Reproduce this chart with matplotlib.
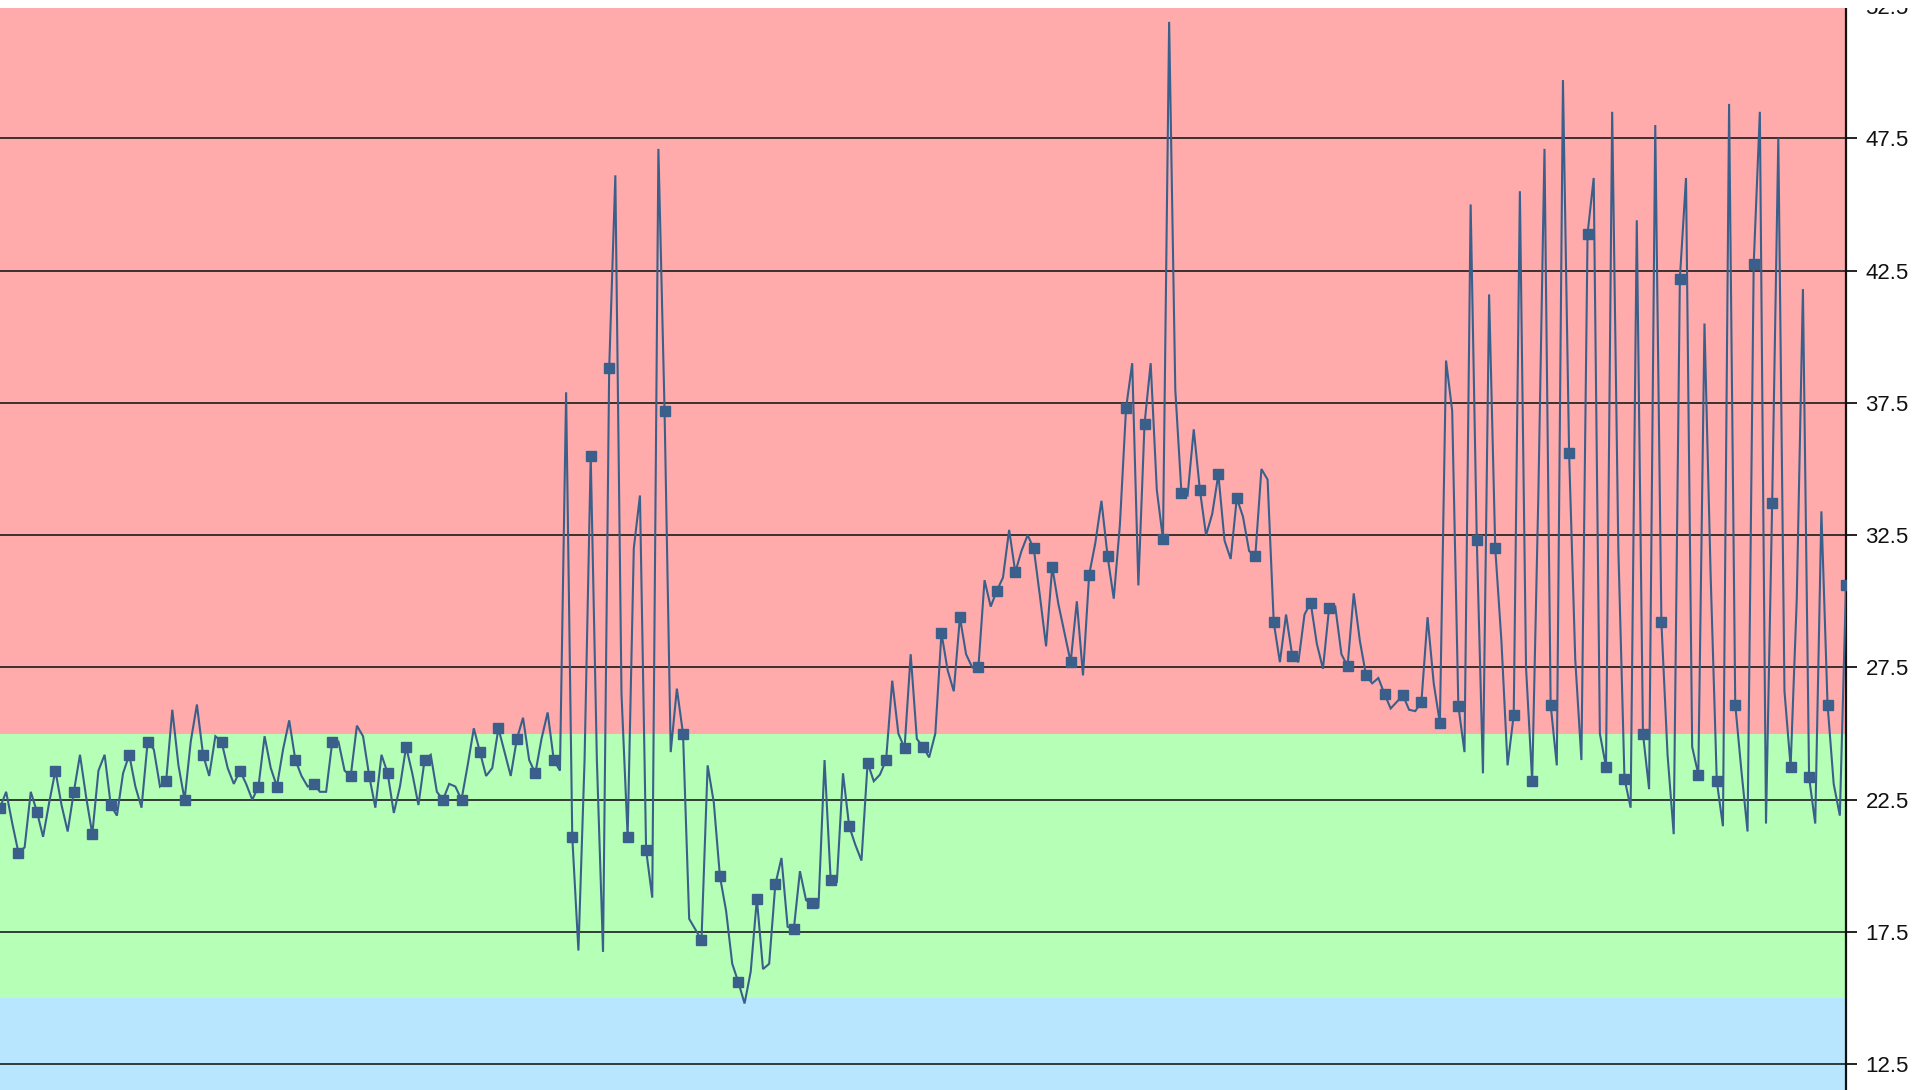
import matplotlib
matplotlib.use("Agg")
import matplotlib.pyplot as plt
from matplotlib.patches import Rectangle
import numpy as np

# ---- data (one sample every 1/3 marker step) ----
seg_early = [
    22.2, 22.8, 21.6,   20.5, 20.7, 22.8,   22.05, 21.1, 22.4,  23.6, 22.3, 21.3,
    22.8, 24.2, 22.6,   21.2, 23.6, 24.2,   22.3, 21.9, 23.5,   24.2, 23.0, 22.2,
    24.7, 24.4, 23.0,   23.2, 25.9, 23.8,   22.5, 24.7, 26.1,   24.2, 23.4, 24.9,
    24.7, 23.7, 23.1,   23.6, 23.1, 22.5,   23.0, 24.9, 23.7,   23.0, 24.4, 25.5,
    24.0, 23.4, 23.0,   23.1, 22.8, 22.8,   24.7, 24.7, 23.6,   23.4, 25.3, 24.9,
    23.4, 22.2, 24.2,   23.5, 22.0, 23.0,   24.5, 23.5, 22.3,   24.0, 24.2, 22.8,
    22.5, 23.1, 23.0,   22.5, 23.8, 25.2,   24.3, 23.4, 23.7,   25.2, 24.3, 23.4,
    24.8, 25.6, 24.0,   23.5, 24.8, 25.8,   24.0, 23.6, 37.9,
]
seg_middle = [
    21.1, 16.8, 24.0,   35.5, 24.0, 16.75,  38.8, 46.1, 26.5,   21.1, 32.0, 34.0,
    20.6, 18.8, 47.1,   37.2, 24.3, 26.7,   25.0, 18.0, 17.6,   17.2, 23.8, 22.4,
    19.6, 18.3, 16.3,   15.6, 14.8, 16.0,   18.75, 16.1, 16.3,  19.3, 20.3, 17.7,
    17.6, 19.8, 18.7,   18.6, 18.4, 24.0,   19.45, 19.4, 23.5,  21.5, 20.8, 20.2,
    23.9, 23.2, 23.45,  24.0, 27.0, 25.0,   24.45, 28.0, 24.8,  24.5, 24.1, 25.0,
    28.8, 27.4, 26.6,   29.4, 28.0, 27.5,   27.5, 30.8, 29.8,   30.4, 30.9, 32.7,
    31.1, 31.9, 32.5,   32.0, 30.2, 28.3,   31.3, 29.9, 28.8,   27.7, 30.0, 27.2,
    31.0, 32.2, 33.8,   31.7, 30.1, 32.9,   37.3, 39.0, 30.6,   36.7, 39.0, 34.2,
    32.35, 51.9, 38.0,  34.1, 34.0, 36.5,   34.2, 32.5, 33.3,   34.8, 32.3, 31.6,
    33.9, 33.2, 31.9,   31.7, 35.0, 34.6,   29.2, 27.7, 29.5,
]
seg_late = [
    27.95, 27.7, 29.5,  29.95, 28.4, 27.45,  29.75, 29.8, 28.0,  27.55, 30.3, 28.5,
    27.2, 26.9, 27.1,   26.5, 25.95, 26.2,   26.45, 25.9, 25.85, 26.2, 29.4, 26.9,
    25.4, 39.1, 37.2,   26.05, 24.3, 45.0,   32.3, 23.5, 41.6,   32.0, 28.5, 23.8,
    25.7, 45.5, 27.5,   23.2, 34.0, 47.1,    26.1, 23.8, 49.7,   35.6, 27.8, 24.0,
    43.9, 46.0, 25.0,   23.75, 48.5, 32.0,   23.3, 22.2, 44.4,   25.0, 22.9, 48.0,
    29.2, 24.2, 21.2,   42.2, 46.0, 24.5,    23.45, 40.5, 31.0,  23.2, 21.5, 48.8,
    26.1, 23.6, 21.3,   42.75, 48.5, 21.6,   33.7, 47.5, 26.6,   23.75, 30.1, 41.8,
    23.35, 21.6, 33.4,  26.1, 23.1, 21.9,    30.6,
]

tick_values = [12.5, 17.5, 22.5, 27.5, 32.5, 37.5, 42.5, 47.5, 52.5]
tick_labels = ["12.5", "17.5", "22.5", "27.5", "32.5", "37.5", "42.5", "47.5", "52.5"]
band_edges = [15.0, 25.0]          # blue | green | red zones
band_colors = ["#B9E6FF", "#B6FFB6", "#FFABAB"]

# ---- figure ----
W, H = 1915, 1090
fig = plt.figure(figsize=(W / 100, H / 100), dpi=100)
fig.patch.set_facecolor("white")
ax = fig.add_axes([0, 0, 1846 / W, 1 - 6 / H])

y = np.array(seg_early + seg_middle + seg_late)
x = np.arange(len(y))

ymin, ymax = 11.53, 52.5
ax.set_ylim(ymin, ymax)
ax.set_xlim(0, len(y) - 1)

edges = [ymin] + band_edges + [ymax]
for lo, hi, c in zip(edges[:-1], edges[1:], band_colors):
    ax.axhspan(lo, hi, color=c, lw=0, zorder=0)

for t in tick_values:
    ax.axhline(t, color="#1c1c1c", lw=1.2, zorder=1)

ax.plot(x, y, color="#3A5F8B", lw=1.5, marker="s", ms=7.5,
        markevery=3, zorder=3, solid_joinstyle="miter")

ax.yaxis.tick_right()
ax.set_yticks(tick_values)
ax.set_yticklabels(tick_labels, family=["Liberation Sans", "DejaVu Sans"])
ax.tick_params(axis="y", direction="out", length=8, width=1.3, pad=6,
               labelsize=16, colors="#111111")
ax.set_xticks([])
for s in ("left", "top", "bottom"):
    ax.spines[s].set_visible(False)
ax.spines["right"].set_color("#111111")
ax.spines["right"].set_linewidth(1.6)

# white strip that clips the top of the chart, as in the reference
fig.add_artist(Rectangle((0, 1 - 8 / H), 1, 8 / H, transform=fig.transFigure,
                         facecolor="white", edgecolor="none", zorder=10))

fig.savefig("out.png", dpi=100)
